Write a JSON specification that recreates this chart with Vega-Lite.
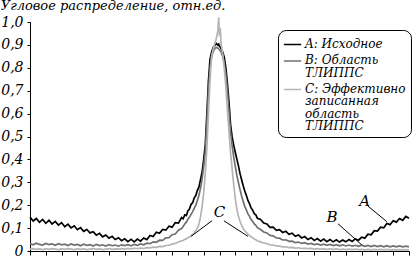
{
  "$schema": "https://vega.github.io/schema/vega-lite/v6.json",
  "width": 379,
  "height": 229,
  "padding": {"left": 0, "top": 0, "right": 2, "bottom": 0},
  "background": "white",
  "config": {
    "view": {"stroke": null},
    "font": "DejaVu Serif",
    "axis": {"labelFont": "DejaVu Serif", "labelFontStyle": "italic", "labelFontSize": 14, "labelColor": "#000", "domainColor": "#000", "tickColor": "#000", "grid": false, "title": null},
    "legend": {"labelFont": "DejaVu Serif", "labelFontStyle": "italic", "labelFontSize": 12, "labelColor": "#000"}
  },
  "title": {"text": "Угловое распределение, отн.ед.", "anchor": "start", "frame": "bounds", "font": "DejaVu Serif", "fontStyle": "italic", "fontWeight": "normal", "fontSize": 13, "color": "#000", "offset": 1},
  "datasets": {
    "curves": [
      {"x":-60,"A":0.148,"B":0.032,"C":0.008},{"x":-59,"A":0.131,"B":0.027,"C":0.010},{"x":-58,"A":0.142,"B":0.034,"C":0.007},{"x":-57,"A":0.125,"B":0.029,"C":0.009},{"x":-56,"A":0.138,"B":0.026,"C":0.006},{"x":-55,"A":0.121,"B":0.033,"C":0.009},{"x":-54,"A":0.134,"B":0.028,"C":0.007},{"x":-53,"A":0.118,"B":0.031,"C":0.010},{"x":-52,"A":0.129,"B":0.025,"C":0.008},{"x":-51,"A":0.113,"B":0.032,"C":0.006},
      {"x":-50,"A":0.124,"B":0.027,"C":0.009},{"x":-49,"A":0.106,"B":0.030,"C":0.007},{"x":-48,"A":0.117,"B":0.024,"C":0.010},{"x":-47,"A":0.101,"B":0.031,"C":0.008},{"x":-46,"A":0.110,"B":0.026,"C":0.006},{"x":-45,"A":0.093,"B":0.029,"C":0.009},{"x":-44,"A":0.102,"B":0.023,"C":0.007},{"x":-43,"A":0.086,"B":0.030,"C":0.009},{"x":-42,"A":0.094,"B":0.025,"C":0.006},{"x":-41,"A":0.079,"B":0.028,"C":0.008},
      {"x":-40,"A":0.084,"B":0.022,"C":0.010},{"x":-39,"A":0.069,"B":0.029,"C":0.007},{"x":-38,"A":0.077,"B":0.024,"C":0.009},{"x":-37,"A":0.062,"B":0.027,"C":0.006},{"x":-36,"A":0.070,"B":0.022,"C":0.008},{"x":-35,"A":0.056,"B":0.028,"C":0.010},{"x":-34,"A":0.064,"B":0.023,"C":0.007},{"x":-33,"A":0.050,"B":0.026,"C":0.009},{"x":-32,"A":0.058,"B":0.021,"C":0.008},{"x":-31,"A":0.045,"B":0.027,"C":0.010},
      {"x":-30,"A":0.053,"B":0.024,"C":0.008},{"x":-29,"A":0.041,"B":0.028,"C":0.011},{"x":-28,"A":0.051,"B":0.023,"C":0.009},{"x":-27,"A":0.040,"B":0.029,"C":0.012},{"x":-26,"A":0.052,"B":0.025,"C":0.010},{"x":-25,"A":0.043,"B":0.031,"C":0.013},{"x":-24,"A":0.057,"B":0.027,"C":0.011},{"x":-23,"A":0.050,"B":0.034,"C":0.015},{"x":-22,"A":0.068,"B":0.032,"C":0.014},{"x":-21,"A":0.063,"B":0.040,"C":0.017},
      {"x":-20,"A":0.082,"B":0.038,"C":0.016},{"x":-19,"A":0.077,"B":0.047,"C":0.020},{"x":-18,"A":0.094,"B":0.046,"C":0.019},{"x":-17,"A":0.091,"B":0.057,"C":0.024},{"x":-16,"A":0.108,"B":0.058,"C":0.025},{"x":-15,"A":0.104,"B":0.071,"C":0.030},{"x":-14,"A":0.124,"B":0.074,"C":0.033},{"x":-13,"A":0.122,"B":0.091,"C":0.039},
      {"x":-12,"A":0.146,"B":0.098,"C":0.044},{"x":-11.5,"A":0.141,"B":0.107,"C":0.046},{"x":-11,"A":0.158,"B":0.118,"C":0.051},{"x":-10.5,"A":0.155,"B":0.126,"C":0.053},{"x":-10,"A":0.176,"B":0.139,"C":0.058},{"x":-9.5,"A":0.183,"B":0.148,"C":0.061},{"x":-9,"A":0.204,"B":0.160,"C":0.067},{"x":-8.5,"A":0.211,"B":0.172,"C":0.072},{"x":-8,"A":0.232,"B":0.186,"C":0.080},{"x":-7.5,"A":0.242,"B":0.200,"C":0.088},
      {"x":-7,"A":0.265,"B":0.221,"C":0.100},{"x":-6.5,"A":0.280,"B":0.243,"C":0.118},{"x":-6,"A":0.312,"B":0.276,"C":0.150},{"x":-5.5,"A":0.345,"B":0.315,"C":0.195},{"x":-5,"A":0.400,"B":0.370,"C":0.255},{"x":-4.5,"A":0.462,"B":0.430,"C":0.340},{"x":-4,"A":0.598,"B":0.560,"C":0.450},{"x":-3.5,"A":0.742,"B":0.700,"C":0.600},{"x":-3,"A":0.838,"B":0.800,"C":0.748},{"x":-2.5,"A":0.868,"B":0.848,"C":0.850},
      {"x":-2,"A":0.889,"B":0.871,"C":0.882},{"x":-1.5,"A":0.897,"B":0.884,"C":0.905},{"x":-1,"A":0.906,"B":0.889,"C":0.928},{"x":-0.5,"A":0.899,"B":0.886,"C":0.962},{"x":-0.25,"A":0.903,"B":0.882,"C":1.02},{"x":0,"A":0.894,"B":0.879,"C":0.938},{"x":0.25,"A":0.890,"B":0.875,"C":0.972},{"x":0.5,"A":0.884,"B":0.869,"C":0.905},{"x":1,"A":0.870,"B":0.850,"C":0.862},{"x":1.5,"A":0.846,"B":0.820,"C":0.800},{"x":2,"A":0.801,"B":0.770,"C":0.720},
      {"x":2.5,"A":0.732,"B":0.700,"C":0.620},{"x":3,"A":0.650,"B":0.610,"C":0.520},{"x":3.5,"A":0.552,"B":0.520,"C":0.430},{"x":4,"A":0.498,"B":0.460,"C":0.360},{"x":4.5,"A":0.462,"B":0.410,"C":0.290},{"x":5,"A":0.430,"B":0.370,"C":0.230},{"x":5.5,"A":0.401,"B":0.330,"C":0.182},{"x":6,"A":0.372,"B":0.298,"C":0.152},{"x":6.5,"A":0.338,"B":0.268,"C":0.130},{"x":7,"A":0.311,"B":0.240,"C":0.112},
      {"x":7.5,"A":0.285,"B":0.217,"C":0.100},{"x":8,"A":0.262,"B":0.195,"C":0.088},{"x":8.5,"A":0.243,"B":0.180,"C":0.081},{"x":9,"A":0.221,"B":0.162,"C":0.073},{"x":9.5,"A":0.207,"B":0.151,"C":0.068},{"x":10,"A":0.188,"B":0.137,"C":0.062},{"x":10.5,"A":0.178,"B":0.129,"C":0.058},{"x":11,"A":0.163,"B":0.118,"C":0.052},{"x":11.5,"A":0.158,"B":0.112,"C":0.049},{"x":12,"A":0.143,"B":0.102,"C":0.045},
      {"x":13,"A":0.138,"B":0.094,"C":0.040},{"x":14,"A":0.122,"B":0.083,"C":0.035},{"x":15,"A":0.118,"B":0.079,"C":0.032},{"x":16,"A":0.103,"B":0.068,"C":0.027},{"x":17,"A":0.104,"B":0.066,"C":0.026},{"x":18,"A":0.090,"B":0.057,"C":0.022},{"x":19,"A":0.093,"B":0.056,"C":0.021},{"x":20,"A":0.081,"B":0.048,"C":0.018},{"x":21,"A":0.086,"B":0.049,"C":0.018},{"x":22,"A":0.073,"B":0.042,"C":0.015},
      {"x":23,"A":0.078,"B":0.043,"C":0.016},{"x":24,"A":0.064,"B":0.037,"C":0.013},{"x":25,"A":0.070,"B":0.039,"C":0.014},{"x":26,"A":0.057,"B":0.033,"C":0.011},{"x":27,"A":0.063,"B":0.036,"C":0.012},{"x":28,"A":0.050,"B":0.030,"C":0.010},{"x":29,"A":0.058,"B":0.033,"C":0.011},{"x":30,"A":0.046,"B":0.028,"C":0.008},{"x":31,"A":0.054,"B":0.031,"C":0.010},{"x":32,"A":0.043,"B":0.026,"C":0.008},
      {"x":33,"A":0.052,"B":0.030,"C":0.009},{"x":34,"A":0.041,"B":0.025,"C":0.007},{"x":35,"A":0.050,"B":0.029,"C":0.009},{"x":36,"A":0.040,"B":0.024,"C":0.007},{"x":37,"A":0.049,"B":0.028,"C":0.009},{"x":38,"A":0.039,"B":0.023,"C":0.006},{"x":39,"A":0.048,"B":0.027,"C":0.008},{"x":40,"A":0.040,"B":0.022,"C":0.006},{"x":41,"A":0.050,"B":0.026,"C":0.008},{"x":42,"A":0.042,"B":0.021,"C":0.006},
      {"x":43,"A":0.053,"B":0.025,"C":0.008},{"x":44,"A":0.047,"B":0.020,"C":0.006},{"x":45,"A":0.060,"B":0.025,"C":0.007},{"x":46,"A":0.056,"B":0.020,"C":0.005},{"x":47,"A":0.073,"B":0.024,"C":0.007},{"x":48,"A":0.071,"B":0.019,"C":0.005},{"x":49,"A":0.089,"B":0.024,"C":0.007},{"x":50,"A":0.087,"B":0.019,"C":0.005},{"x":51,"A":0.104,"B":0.023,"C":0.007},{"x":52,"A":0.101,"B":0.018,"C":0.005},
      {"x":53,"A":0.120,"B":0.023,"C":0.007},{"x":54,"A":0.115,"B":0.018,"C":0.005},{"x":55,"A":0.132,"B":0.022,"C":0.006},{"x":56,"A":0.126,"B":0.018,"C":0.005},{"x":57,"A":0.142,"B":0.022,"C":0.006},{"x":58,"A":0.134,"B":0.018,"C":0.005},{"x":59,"A":0.151,"B":0.021,"C":0.006},{"x":60,"A":0.143,"B":0.018,"C":0.005}
    ],
    "labels": [
      {"x": 46, "value": 0.22, "t": "A"},
      {"x": 35.6, "value": 0.15, "t": "B"},
      {"x": 0, "value": 0.17, "t": "C"}
    ],
    "leaders": [
      {"x": 47, "value": 0.196, "x2": 53, "value2": 0.128},
      {"x": 37.5, "value": 0.119, "x2": 45.1, "value2": 0.026},
      {"x": -2.4, "value": 0.132, "x2": -9, "value2": 0.064},
      {"x": 1.4, "value": 0.132, "x2": 9, "value2": 0.064}
    ]
  },
  "encoding": {
    "x": {"field": "x", "type": "quantitative", "scale": {"domain": [-60, 60], "nice": false, "zero": false},
      "axis": {"values": [-60,-55,-50,-45,-40,-35,-30,-25,-20,-15,-10,-5,0,5,10,15,20,25,30,35,40,45,50,55,60], "labels": false, "tickSize": 4, "title": null}},
    "y": {"field": "value", "type": "quantitative", "scale": {"domain": [0, 1], "nice": false},
      "axis": {"values": [0,0.1,0.2,0.3,0.4,0.5,0.6,0.7,0.8,0.9,1.0], "tickSize": 3, "labelPadding": 4, "labelOverlap": false, "title": null,
        "labelExpr": "datum.value == 0 ? '0' : replace(format(datum.value, '.1f'), '.', ',')"}}
  },
  "layer": [
    {
      "data": {"name": "curves"},
      "transform": [{"fold": ["A", "B", "C"], "as": ["series", "value"]}],
      "mark": {"type": "line", "strokeWidth": 1.7},
      "encoding": {
        "color": {"field": "series", "type": "nominal",
          "scale": {"domain": ["A", "B", "C"], "range": ["#000000", "#707070", "#b4b4b4"]},
          "legend": {"title": null, "orient": "none", "legendX": 248, "legendY": 8, "strokeColor": "#000", "fillColor": "white", "cornerRadius": 8, "padding": 5, "gridAlign": "none",
            "symbolType": "stroke", "symbolSize": 300, "symbolStrokeWidth": 1.5, "rowPadding": 1.5, "labelOffset": 3, "labelBaseline": "top", "labelFontSize": 12,
            "encode": {"labels": {"update": {"dy": {"value": -6}, "lineHeight": {"value": 12.5}}}},
            "labelExpr": "datum.label == 'A' ? ['A: Исходное'] : datum.label == 'B' ? ['B: Область', '\u00a0\u00a0\u00a0\u00a0\u00a0\u00a0ТЛИППС'] : ['C: Эффективно', '\u00a0\u00a0\u00a0\u00a0\u00a0\u00a0записанная', '\u00a0\u00a0\u00a0\u00a0\u00a0\u00a0область', '\u00a0\u00a0\u00a0\u00a0\u00a0\u00a0ТЛИППС']"}},
        "order": {"field": "x", "type": "quantitative"}
      }
    },
    {
      "data": {"name": "leaders"},
      "mark": {"type": "rule", "color": "#000", "strokeWidth": 1},
      "encoding": {
        "x2": {"field": "x2"},
        "y2": {"field": "value2"}
      }
    },
    {
      "data": {"name": "labels"},
      "mark": {"type": "text", "font": "DejaVu Serif", "fontStyle": "italic", "fontSize": 15, "color": "#000", "align": "center", "baseline": "middle"},
      "encoding": {
        "text": {"field": "t"}
      }
    }
  ]
}
